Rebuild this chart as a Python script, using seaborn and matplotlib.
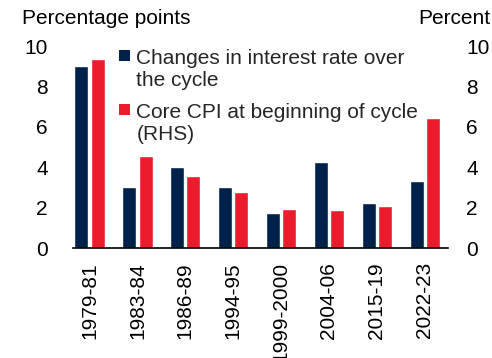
import matplotlib
matplotlib.use("Agg")
import matplotlib.pyplot as plt
import matplotlib.patches as mpatches
from matplotlib.legend_handler import HandlerBase
import pandas as pd
import seaborn as sns

# Tightening cycles and the two measures compared for each
cycles = ["1979-81", "1983-84", "1986-89", "1994-95", "1999-2000", "2004-06", "2015-19", "2022-23"]
rate_change = [9.0, 3.0, 4.0, 3.0, 1.73, 4.24, 2.24, 3.33]
core_cpi = [9.34, 4.57, 3.56, 2.77, 1.95, 1.87, 2.06, 6.42]

label_rate = "Changes in interest rate over\nthe cycle"
label_cpi = "Core CPI at beginning of cycle\n(RHS)"
navy = "#00224A"
red = "#EC1C2E"

df = pd.DataFrame({
    "cycle": cycles * 2,
    "value": rate_change + core_cpi,
    "series": [label_rate] * len(cycles) + [label_cpi] * len(cycles),
})


class FirstLineSquare(HandlerBase):
    """Square legend key placed beside the first line of a two-line label."""

    def legend_artist(self, legend, orig_handle, fontsize, handlebox):
        s = 0.53 * fontsize
        line_dy = 0.67 * fontsize
        y = line_dy + 0.36 * fontsize - s / 2
        r = mpatches.Rectangle((0, y), s, s, facecolor=orig_handle.get_facecolor(),
                               edgecolor="none", transform=handlebox.get_transform())
        handlebox.add_artist(r)
        return r


sns.set_theme(style="white")
plt.rcParams["font.family"] = ["Liberation Sans", "DejaVu Sans"]
plt.rcParams["font.size"] = 15

fig = plt.figure(figsize=(4.92, 3.58), dpi=100)
ax = fig.add_axes([0.148, 0.307, 0.763, 0.5645])

sns.barplot(data=df, x="cycle", y="value", hue="series", order=cycles,
            hue_order=[label_rate, label_cpi],
            palette={label_rate: navy, label_cpi: red},
            width=0.68, gap=0.14, saturation=1, legend=False, ax=ax)

ax.set_xlim(-0.35, 7.49)
ax.set_ylim(0, 10)
ax.set_yticks(range(0, 11, 2))
ax.set_xlabel("")
ax.set_ylabel("")
for s in ["top", "right", "left"]:
    ax.spines[s].set_visible(False)
ax.spines["bottom"].set_color("black")
ax.spines["bottom"].set_linewidth(1.2)
ax.tick_params(axis="y", length=0, pad=18, labelsize=15, colors="black")
ax.tick_params(axis="x", length=0, pad=10, labelsize=15, colors="black", rotation=90)
for t in ax.get_xticklabels():
    t.set_va("top")

# Right-hand scale for core CPI (same range)
ax2 = ax.twinx()
ax2.set_ylim(0, 10)
ax2.set_yticks(range(0, 11, 2))
for s in ax2.spines.values():
    s.set_visible(False)
ax2.tick_params(axis="y", length=0, pad=13, labelsize=15, colors="black")
ax2.grid(False)

fig.text(22 / 492, 1 - 18 / 358, "Percentage points", ha="left", va="center", fontsize=15, color="black")
fig.text(490 / 492, 1 - 18 / 358, "Percent", ha="right", va="center", fontsize=15, color="black")

handles = [mpatches.Patch(color=navy), mpatches.Patch(color=red)]
ax.legend(handles, [label_rate, label_cpi], loc="upper left",
          bbox_to_anchor=(119 / 492, 1 - 49 / 358), bbox_transform=fig.transFigure,
          frameon=False, fontsize=15, handlelength=0.53, handleheight=0.7,
          handler_map={mpatches.Patch: FirstLineSquare()},
          handletextpad=0.3, labelspacing=0.6, borderaxespad=0, borderpad=0)

fig.savefig("out.png", dpi=100)
